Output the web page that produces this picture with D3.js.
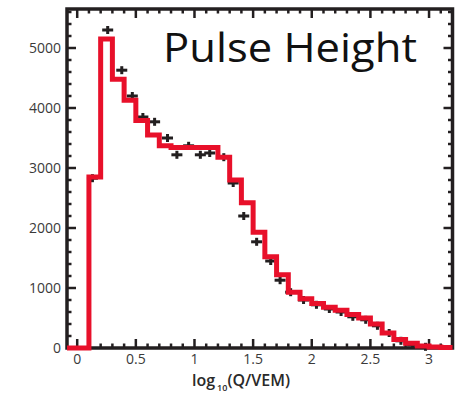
<!DOCTYPE html>
<html>
<head>
<meta charset="utf-8">
<script src="https://cdn.jsdelivr.net/npm/d3@7"></script>
<style>
  body { margin: 0; background: #fff; }
  svg { display: block; }
  .tick-label { font-family: "Open Sans", sans-serif; fill: #3a3a3a; }
</style>
</head>
<body>
<div id="chart"></div>
<script>
// histogram (red): left bin edges and counts
const binEdges = [0.1, 0.2, 0.3, 0.4, 0.5, 0.6, 0.7, 0.8, 0.9, 1.0, 1.1, 1.2, 1.3, 1.4, 1.5, 1.6,
    1.7, 1.8, 1.9, 2.0, 2.1, 2.2, 2.3, 2.4, 2.5, 2.6, 2.7, 2.8, 2.9, 3.0, 3.1];
const binCounts = [2850, 5150, 4480, 4130, 3790, 3550, 3370, 3340, 3340, 3340, 3340, 3180, 2800, 2420, 1930, 1520,
    1220, 930, 820, 740, 680, 630, 560, 500, 400, 250, 140, 80, 35, 15, 10];

// measured points (black crosses)
const pointX = [0.13, 0.26, 0.38, 0.47, 0.56, 0.66, 0.77, 0.85, 0.95, 1.05, 1.13, 1.25, 1.33, 1.42, 1.53,
    1.65, 1.73, 1.82, 1.93, 2.04, 2.15, 2.25, 2.35, 2.46, 2.56, 2.66, 2.76, 2.86, 2.97];
const pointY = [2830, 5300, 4630, 4200, 3850, 3770, 3500, 3220, 3370, 3220, 3250, 3180, 2750, 2200, 1770,
    1450, 1130, 930, 800, 720, 650, 600, 520, 470, 370, 250, 120, 50, 20];

const xTicks = [0, 0.5, 1, 1.5, 2, 2.5, 3];
const yTicks = [0, 1000, 2000, 3000, 4000, 5000];
const xDomain = [-0.087, 3.2];
const yDomain = [0, 5650];

const W = 458, H = 395;
const margin = {left: 67, right: 452.5, top: 9, bottom: 348};

const svg = d3.select("#chart").append("svg")
    .attr("width", W)
    .attr("height", H);

const x = d3.scaleLinear().domain(xDomain).range([margin.left, margin.right]);
const y = d3.scaleLinear().domain(yDomain).range([margin.bottom, margin.top]);

const ink = "#231f20";

// minor / major ticks, pointing inward on all four sides
const xMinor = d3.range(0, 3.25, 0.1);
const yMinor = d3.range(0, 5650, 200);
const tickG = svg.append("g").attr("stroke", ink).attr("stroke-width", 2.5);

xMinor.forEach(v => {
    const major = xTicks.some(t => Math.abs(t - v) < 1e-6);
    const len = major ? 9 : 4.5;
    tickG.append("line").attr("x1", x(v)).attr("x2", x(v)).attr("y1", margin.bottom).attr("y2", margin.bottom - len);
    tickG.append("line").attr("x1", x(v)).attr("x2", x(v)).attr("y1", margin.top).attr("y2", margin.top + len);
});
yMinor.forEach(v => {
    const major = v % 1000 === 0;
    const len = major ? 9 : 4.5;
    tickG.append("line").attr("y1", y(v)).attr("y2", y(v)).attr("x1", margin.left).attr("x2", margin.left + len);
    tickG.append("line").attr("y1", y(v)).attr("y2", y(v)).attr("x1", margin.right).attr("x2", margin.right - len);
});

// frame
svg.append("rect")
    .attr("x", margin.left)
    .attr("y", margin.top)
    .attr("width", margin.right - margin.left)
    .attr("height", margin.bottom - margin.top)
    .attr("fill", "none")
    .attr("stroke", ink)
    .attr("stroke-width", 3.5);

// tick labels
svg.selectAll("text.ylab")
    .data(yTicks)
    .enter()
    .append("text")
        .attr("class", "tick-label ylab")
        .attr("x", 61)
        .attr("y", d => y(d) + 5)
        .attr("text-anchor", "end")
        .attr("font-size", 14)
        .text(d => d);

svg.selectAll("text.xlab")
    .data(xTicks)
    .enter()
    .append("text")
        .attr("class", "tick-label xlab")
        .attr("x", d => x(d))
        .attr("y", 364)
        .attr("text-anchor", "middle")
        .attr("font-size", 14)
        .text(d => d);

// axis title with subscript
const xt = svg.append("text")
    .attr("class", "tick-label")
    .attr("x", 192)
    .attr("y", 386)
    .attr("font-size", 16)
    .attr("font-weight", 600)
    .style("fill", "#2a2a2a");
xt.append("tspan").text("log");
xt.append("tspan").attr("font-size", 9).attr("dy", 5).attr("dx", 2).text("10");
xt.append("tspan").attr("dy", -5).text("(Q/VEM)");

// title
svg.append("text")
    .attr("x", 163)
    .attr("y", 62)
    .attr("font-family", "'Open Sans', sans-serif")
    .attr("font-size", 41)
    .attr("fill", "#111")
    .attr("textLength", 254)
    .attr("lengthAdjust", "spacingAndGlyphs")
    .text("Pulse Height");

// data crosses
const pts = pointX.map((d, i) => ({x: d, y: pointY[i]}));
const crossG = svg.append("g").attr("fill", ink);
crossG.selectAll("rect.h")
    .data(pts)
    .enter()
    .append("rect")
        .attr("x", d => x(d.x) - 5.5)
        .attr("y", d => y(d.y) - 1.5)
        .attr("width", 11)
        .attr("height", 3);
crossG.selectAll("rect.v")
    .data(pts)
    .enter()
    .append("rect")
        .attr("x", d => x(d.x) - 1.5)
        .attr("y", d => y(d.y) - 4)
        .attr("width", 3)
        .attr("height", 8);

// red histogram
const steps = [{x: xDomain[0], y: 0}]
    .concat(binEdges.map((e, i) => ({x: e, y: binCounts[i]})))
    .concat([{x: xDomain[1], y: binCounts[binCounts.length - 1]}]);

const line = d3.line()
    .x(d => x(d.x))
    .y(d => y(d.y))
    .curve(d3.curveStepAfter);

svg.append("path")
    .datum(steps)
    .attr("d", line)
    .attr("fill", "none")
    .attr("stroke", "#e8102a")
    .attr("stroke-width", 5)
    .attr("stroke-linejoin", "miter");
</script>
</body>
</html>
